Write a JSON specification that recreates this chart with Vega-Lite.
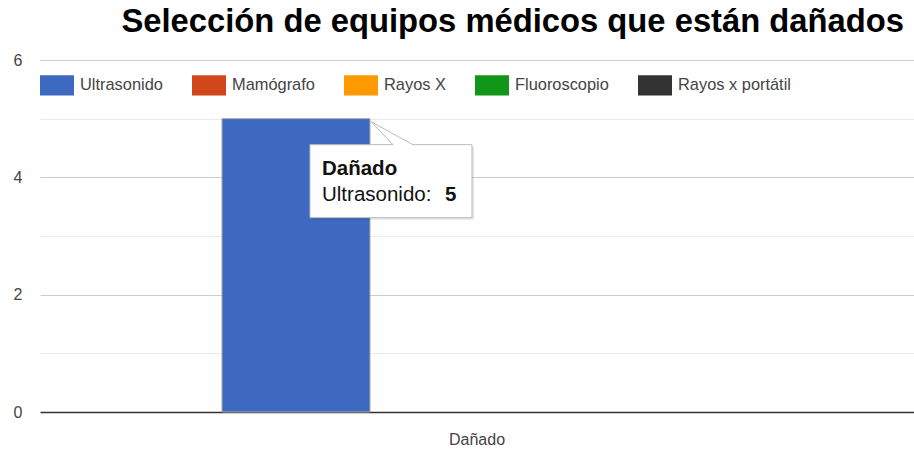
{
  "$schema": "https://vega.github.io/schema/vega-lite/v6.json",
  "width": 874,
  "height": 352,
  "autosize": {"type": "none"},
  "padding": {"left": 40, "top": 60, "right": 0, "bottom": 39},
  "background": "white",
  "title": {
    "text": "Selección de equipos médicos que están dañados",
    "font": "Liberation Sans",
    "fontSize": 32.75,
    "fontWeight": "bold",
    "color": "#000000",
    "anchor": "end",
    "frame": "group",
    "dx": -10,
    "baseline": "alphabetic",
    "offset": -13
  },
  "config": {
    "view": {"stroke": null},
    "font": "Liberation Sans"
  },
  "data": {
    "values": [
      {"estado": "Dañado", "equipo": "Ultrasonido", "valor": 5},
      {"estado": "Dañado", "equipo": "Mamógrafo", "valor": 0},
      {"estado": "Dañado", "equipo": "Rayos X", "valor": 0},
      {"estado": "Dañado", "equipo": "Fluoroscopio", "valor": 0},
      {"estado": "Dañado", "equipo": "Rayos x portátil", "valor": 0}
    ]
  },
  "encoding": {
    "x": {
      "field": "estado",
      "type": "nominal",
      "scale": {"paddingInner": 0, "paddingOuter": 0},
      "axis": {
        "title": null,
        "labelAngle": 0,
        "labelFont": "Liberation Sans",
        "labelFontSize": 16,
        "labelColor": "#444444",
        "labelPadding": 19,
        "ticks": false,
        "domain": false,
        "grid": false
      }
    },
    "xOffset": {
      "field": "equipo",
      "type": "nominal",
      "scale": {
        "domain": ["Mamógrafo", "Ultrasonido", "Rayos X", "Fluoroscopio", "Rayos x portátil"],
        "paddingInner": 0,
        "paddingOuter": 0.4527,
        "align": 0.2537
      }
    },
    "y": {
      "field": "valor",
      "type": "quantitative",
      "scale": {"domain": [0, 6], "nice": false},
      "axis": {
        "title": null,
        "values": [0, 1, 2, 3, 4, 5, 6],
        "labelExpr": "datum.value % 2 === 0 ? datum.label : ''",
        "labelFont": "Liberation Sans",
        "labelFontSize": 16,
        "labelColor": "#444444",
        "labelPadding": 18,
        "ticks": false,
        "domain": false,
        "gridColor": {
          "condition": [
            {"test": "datum.value === 0", "value": "#333333"},
            {"test": "datum.value % 2 === 1", "value": "#ebebeb"}
          ],
          "value": "#cccccc"
        },
        "gridWidth": {
          "condition": {"test": "datum.value === 0", "value": 1.6},
          "value": 1
        }
      }
    }
  },
  "layer": [
    {
      "mark": {"type": "bar", "strokeWidth": 1},
      "encoding": {
        "stroke": {
          "condition": {"test": "datum.valor > 0", "value": "#a8a8a8"},
          "value": null
        },
        "color": {
          "field": "equipo",
          "type": "nominal",
          "scale": {
            "domain": ["Ultrasonido", "Mamógrafo", "Rayos X", "Fluoroscopio", "Rayos x portátil"],
            "range": ["#3d69c1", "#d2461b", "#ff9900", "#129618", "#333333"]
          },
          "legend": {
            "title": null,
            "orient": "none",
            "legendX": 0,
            "legendY": 8,
            "direction": "horizontal",
            "padding": 0,
            "columnPadding": 29,
            "labelOffset": 6,
            "symbolType": "M-1,-0.6H1V0.6H-1Z",
            "symbolSize": 1156,
            "symbolStrokeWidth": 0,
            "symbolOpacity": 1,
            "labelFont": "Liberation Sans",
            "labelFontSize": 16.4,
            "labelColor": "#444444",
            "labelLimit": 300,
            "encode": {
              "labels": {
                "update": {
                  "fill": {"signal": "datum.label === 'Rayos x portátil' ? '#000000' : '#444444'"},
                  "font": {"signal": "datum.label === 'Rayos x portátil' ? 'DejaVu Sans' : 'Liberation Sans'"},
                  "fontSize": {"signal": "datum.label === 'Rayos x portátil' ? 16.5 : 16.4"}
                }
              }
            }
          }
        }
      }
    },
    {
      "transform": [{"filter": "datum.equipo === 'Ultrasonido'"}],
      "mark": {
        "type": "point",
        "shape": "M0.16,0.28H0.99L0.77,0.05L1.19,0.28H1.78V1.01H0.16Z",
        "size": 40000,
        "filled": true,
        "fill": "#000000",
        "opacity": 0.1,
        "strokeWidth": 0
      }
    },
    {
      "transform": [{"filter": "datum.equipo === 'Ultrasonido'"}],
      "mark": {
        "type": "point",
        "shape": "M0.14,0.26H0.97L0.75,0.03L1.17,0.26H1.76V0.99H0.14Z",
        "size": 40000,
        "filled": true,
        "fill": "#ffffff",
        "stroke": "#bbbbbb",
        "strokeWidth": 1,
        "opacity": 1
      }
    },
    {
      "transform": [{"filter": "datum.equipo === 'Ultrasonido'"}],
      "mark": {
        "type": "text",
        "align": "left",
        "baseline": "alphabetic",
        "dx": 26,
        "dy": 56,
        "fontSize": 20.5,
        "fontWeight": "bold",
        "font": "Liberation Sans",
        "color": "#111111"
      },
      "encoding": {"text": {"field": "estado"}}
    },
    {
      "transform": [{"filter": "datum.equipo === 'Ultrasonido'"}],
      "mark": {
        "type": "text",
        "align": "left",
        "baseline": "alphabetic",
        "dx": 26,
        "dy": 82,
        "fontSize": 20.5,
        "font": "Liberation Sans",
        "color": "#111111",
        "text": {"expr": "datum.equipo + ':'"}
      }
    },
    {
      "transform": [{"filter": "datum.equipo === 'Ultrasonido'"}],
      "mark": {
        "type": "text",
        "align": "left",
        "baseline": "alphabetic",
        "dx": 149,
        "dy": 82,
        "fontSize": 20.5,
        "fontWeight": "bold",
        "font": "Liberation Sans",
        "color": "#111111"
      },
      "encoding": {"text": {"field": "valor"}}
    }
  ]
}
